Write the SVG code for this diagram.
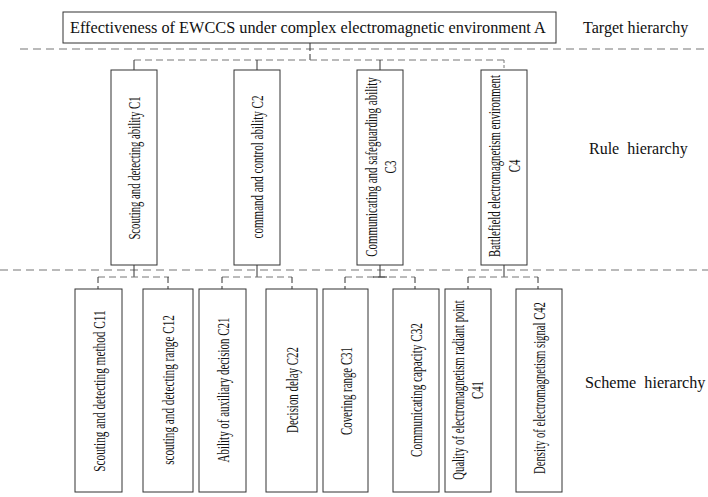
<svg xmlns="http://www.w3.org/2000/svg" width="708" height="497" viewBox="0 0 708 497">
<rect width="708" height="497" fill="#fff"/>
<g id="separators" stroke="#777" stroke-width="1.2" stroke-dasharray="8 5" fill="none">
<path d="M20 49H708M0 270H708"/>
</g>
<g id="level-labels" fill="#111">
<text x="583" y="33" font-family="Liberation Serif" font-size="16.1">Target hierarchy</text>
<text x="589" y="154" font-family="Liberation Serif" font-size="16" word-spacing="4">Rule hierarchy</text>
<text x="585" y="388" font-family="Liberation Serif" font-size="16.2" word-spacing="4">Scheme hierarchy</text>
</g>
<g id="connectors" fill="none" stroke-width="1">
<path d="M310 43V60" stroke="#333" stroke-dasharray="8 3"/>
<path d="M134 60H504" stroke="#777" stroke-dasharray="7 4"/>
<path d="M134 60V70M257 60V70M380 60V70" stroke="#333"/>
<path d="M504 60V70" stroke="#777" stroke-dasharray="3 2"/>
<path d="M134 265V277M257 265V277M380 265V277M504 265V277" stroke="#333"/>
<path d="M98 277H169M222 277H292M345 277H415M468 277H538" stroke="#777" stroke-dasharray="7 4"/>
<path d="M373 277H387" stroke="#333"/>
<path d="M98 277V289M168 277V289M222 277V289M292 277V289M345 277V289M415 277V289M468 277V289M538 277V289" stroke="#333" stroke-dasharray="6 3"/>
</g>
<g id="A">
<rect x="63" y="12" width="493" height="31" fill="#fff" stroke="#333"/>
<text x="70" y="33" fill="#111" font-family="Liberation Serif" font-size="16.3">Effectiveness of EWCCS under complex electromagnetic environment A</text>
</g>
<g id="C1">
<rect x="111" y="70" width="46" height="195" fill="#fff" stroke="#333"/>
<text transform="translate(140,168) rotate(-90) scale(0.63,1)" fill="#111" font-family="Liberation Serif" font-size="17" text-anchor="middle">Scouting and detecting ability C1</text>
</g>
<g id="C2">
<rect x="234" y="70" width="46" height="195" fill="#fff" stroke="#333"/>
<text transform="translate(263,167) rotate(-90) scale(0.65,1)" fill="#111" font-family="Liberation Serif" font-size="17" text-anchor="middle">command and control ability C2</text>
</g>
<g id="C3">
<rect x="357" y="70" width="46" height="195" fill="#fff" stroke="#333"/>
<text transform="translate(377,167) rotate(-90) scale(0.647,1)" fill="#111" font-family="Liberation Serif" font-size="17" text-anchor="middle">Communicating and safeguarding ability</text>
<text transform="translate(396,167) rotate(-90) scale(0.647,1)" fill="#111" font-family="Liberation Serif" font-size="17" text-anchor="middle">C3</text>
</g>
<g id="C4">
<rect x="481" y="70" width="46" height="195" fill="#fff" stroke="#333"/>
<text transform="translate(500,166) rotate(-90) scale(0.634,1)" fill="#111" font-family="Liberation Serif" font-size="17" text-anchor="middle">Battlefield electromagnetism environment</text>
<text transform="translate(520,166) rotate(-90) scale(0.634,1)" fill="#111" font-family="Liberation Serif" font-size="17" text-anchor="middle">C4</text>
</g>
<g id="C11">
<rect x="75" y="289" width="47" height="203" fill="#fff" stroke="#333"/>
<text transform="translate(104.5,391) rotate(-90) scale(0.665,1)" fill="#111" font-family="Liberation Serif" font-size="17" text-anchor="middle">Scouting and detecting method C11</text>
</g>
<g id="C12">
<rect x="143" y="289" width="50" height="203" fill="#fff" stroke="#333"/>
<text transform="translate(174,390) rotate(-90) scale(0.659,1)" fill="#111" font-family="Liberation Serif" font-size="17" text-anchor="middle">scouting and detecting range C12</text>
</g>
<g id="C21">
<rect x="199" y="289" width="47" height="203" fill="#fff" stroke="#333"/>
<text transform="translate(228.5,390) rotate(-90) scale(0.645,1)" fill="#111" font-family="Liberation Serif" font-size="17" text-anchor="middle">Ability of auxiliary decision C21</text>
</g>
<g id="C22">
<rect x="266" y="289" width="51" height="203" fill="#fff" stroke="#333"/>
<text transform="translate(297.5,390) rotate(-90) scale(0.64,1)" fill="#111" font-family="Liberation Serif" font-size="17" text-anchor="middle">Decision delay C22</text>
</g>
<g id="C31">
<rect x="323" y="289" width="45" height="203" fill="#fff" stroke="#333"/>
<text transform="translate(351.5,391) rotate(-90) scale(0.638,1)" fill="#111" font-family="Liberation Serif" font-size="17" text-anchor="middle">Covering range C31</text>
</g>
<g id="C32">
<rect x="393" y="289" width="46" height="203" fill="#fff" stroke="#333"/>
<text transform="translate(422,390) rotate(-90) scale(0.66,1)" fill="#111" font-family="Liberation Serif" font-size="17" text-anchor="middle">Communicating capacity C32</text>
</g>
<g id="C41">
<rect x="445" y="289" width="46" height="203" fill="#fff" stroke="#333"/>
<text transform="translate(464,390) rotate(-90) scale(0.63,1)" fill="#111" font-family="Liberation Serif" font-size="17" text-anchor="middle">Quality of electromagnetism radiant point</text>
<text transform="translate(483,390) rotate(-90) scale(0.63,1)" fill="#111" font-family="Liberation Serif" font-size="17" text-anchor="middle">C41</text>
</g>
<g id="C42">
<rect x="516" y="289" width="46" height="203" fill="#fff" stroke="#333"/>
<text transform="translate(545,388) rotate(-90) scale(0.628,1)" fill="#111" font-family="Liberation Serif" font-size="17" text-anchor="middle">Density of electromagnetism signal C42</text>
</g>
</svg>
